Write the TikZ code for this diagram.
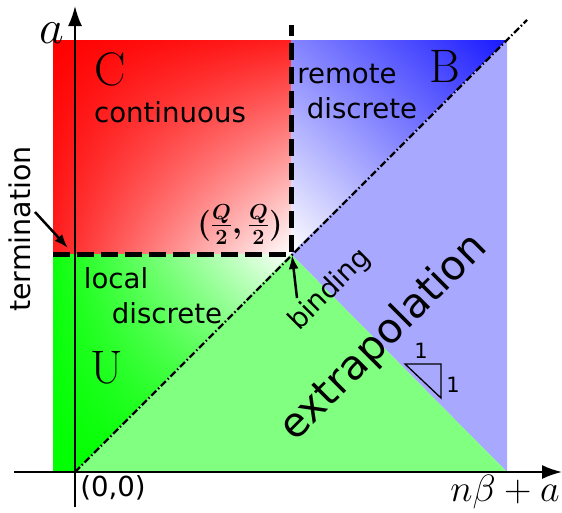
\RequirePackage{fix-cm}
\documentclass[tikz,border=0pt]{standalone}
\usepackage{amsmath}
\usepackage{fontspec}
\setsansfont{DejaVu Sans}
\usetikzlibrary{arrows.meta, calc, shadings}

\newcommand{\textpx}[1]{\fontsize{#1}{#1}\selectfont}

\begin{document}
\begin{tikzpicture}[
    x=1pt, y=-1pt,
    label text/.style={font=\sffamily\textpx{27.6}, inner sep=0pt},
    region letter/.style={font=\rmfamily\textpx{47}, inner sep=0pt},
    axis/.style={line width=2pt, -{Latex[length=20pt, width=14pt]}},
    border/.style={line width=5pt, dash pattern=on 17pt off 7pt},
    diagonal/.style={line width=2.4pt, dash pattern=on 7pt off 2.5pt on 1.5pt off 2.5pt},
    pointer/.style={line width=2.5pt, -{Latex[length=14pt, width=10pt]}},
]

\useasboundingbox (0,0) rectangle (562,512);

% --- Key points ---
\coordinate (O) at (75,472);
\coordinate (Q) at (291,254);
\coordinate (top corner) at (507,40);
\coordinate (right corner) at (507,472);
\coordinate (diag end) at (527,20);

% --- Regions ---
% C: continuous
\shade[upper left=red, upper right=red!88!white,
       lower left=red!88!white, lower right=white] (53,40) rectangle (Q);
% B: remote discrete
\begin{scope}
    \clip (291,40) -- (top corner) -- (Q) -- cycle;
    \shade[upper right=blue!90!white, upper left=blue!48!white,
           lower left=white, lower right=blue!48!white] (291,40) rectangle (507,254);
\end{scope}
\fill[blue!34!white] (Q) -- (top corner) -- (right corner) -- cycle;
% U: local discrete
\shade[lower left=green, upper right=white,
       upper left=green!95!white, lower right=green!95!white] (53,254) rectangle (291,472);
\fill[green!50!white] (O) -- (Q) -- (right corner) -- cycle;

% --- Boundaries ---
\draw[border] (53,254) -- (Q) -- (291,25);
\draw[diagonal] (O) -- (diag end);

% --- Axes ---
\coordinate (x start) at (14,472);
\coordinate (x end) at (562,472);
\coordinate (y start) at (75,507);
\coordinate (y end) at (75,6);
\draw[axis] (x start) -- (x end);
\draw[axis] (y start) -- (y end);

% --- Slope triangle ---
\coordinate (s1) at (405,364);
\coordinate (s2) at (441,364);
\coordinate (s3) at (441,398);
\draw[line width=1.3pt] (s1) -- (s2) -- (s3) -- cycle;
\node[font=\sffamily\textpx{21}] (run) at (421,351) {1};
\node[font=\sffamily\textpx{21}] (rise) at (453,385) {1};

% --- Labels ---
\node[font=\textpx{48}] (a label) at (52,33) {$a$};
\node[font=\textpx{38}] (nba label) at (505,492) {$n\beta+a$};
\node[label text] (origin) at (113,488) {(0,0)};
\node[region letter, anchor=base] (C) at (110,85) {C};
\node[region letter, anchor=base] (B) at (445,82) {B};
\node[region letter, anchor=base] (U) at (107,383) {U};
\node[label text, anchor=base] (continuous) at (170,122) {continuous};
\node[label text, anchor=base] (remote) at (347,83) {remote};
\node[label text, anchor=base] (remote discrete) at (362,118) {discrete};
\node[label text, anchor=base] (local) at (116,288) {local};
\node[label text, anchor=base] (local discrete) at (167,323) {discrete};
\node[font=\textpx{31}\boldmath] (Q label) at (240,225) {$(\frac{Q}{2},\frac{Q}{2})$};
\node[label text, font=\sffamily\textpx{28.5}, rotate=90, anchor=base] (termination) at (30,229) {termination};
\node[label text, font=\sffamily\textpx{27.5}, rotate=45] (binding) at (330,290) {binding};
\node[label text, font=\sffamily\textpx{41}, rotate=45] (extrapolation) at (384,338) {extrapolation};

% --- Pointers ---
\coordinate (term tail) at (35,212);
\coordinate (term tip) at (68,248);
\coordinate (bind tail) at (297,298);
\coordinate (bind tip) at (292,255);
\draw[pointer] (term tail) -- (term tip);
\draw[pointer] (bind tail) -- (bind tip);

\end{tikzpicture}
\end{document}
